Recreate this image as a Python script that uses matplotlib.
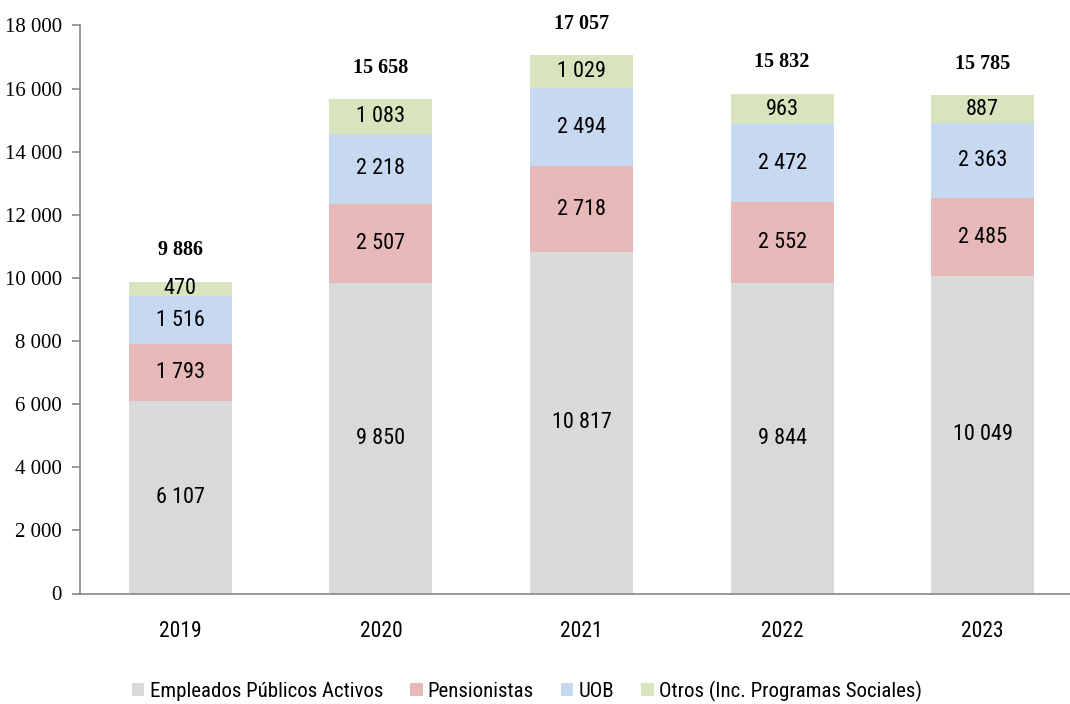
import matplotlib
matplotlib.use("Agg")
import matplotlib.pyplot as plt
import numpy as np

years = ["2019", "2020", "2021", "2022", "2023"]
empleados = [6107, 9850, 10817, 9844, 10049]
pensionistas = [1793, 2507, 2718, 2552, 2485]
uob = [1516, 2218, 2494, 2472, 2363]
otros = [470, 1083, 1029, 963, 887]
totales = [9886, 15658, 17057, 15832, 15785]

series_names = ["Empleados Públicos Activos", "Pensionistas", "UOB",
                "Otros (Inc. Programas Sociales)"]
colors = ["#D9D9D9", "#E6B9B8", "#C6D9F1", "#D7E4BD"]

SANS = ["Roboto Condensed", "DejaVu Sans"]
SERIF = ["Liberation Serif", "DejaVu Serif"]


def fmt(v):
    return f"{v:,}".replace(",", " ")


fig = plt.figure(figsize=(10.7, 7.04), dpi=100)
ax = fig.add_axes([80 / 1070, 1 - 593.5 / 704, 1003 / 1070, 568 / 704])

x = np.arange(len(years))
width = 0.513
bottom = np.zeros(len(years))
handles = []
for vals, name, col in zip([empleados, pensionistas, uob, otros], series_names, colors):
    bars = ax.bar(x, vals, width, bottom=bottom, color=col, label=name, zorder=2)
    handles.append(bars)
    for xi, b, v in zip(x, bottom, vals):
        ax.text(xi, b + v / 2, fmt(v), ha="center", va="center",
                fontsize=16, family=SANS, color="#000000")
    bottom += np.array(vals)

for xi, top, tot in zip(x, bottom, totales):
    ax.text(xi, top + 1000, fmt(tot), ha="center", va="center",
            fontsize=14.5, family=SERIF, fontweight="bold", color="#000000")

ax.set_xlim(-0.5, 4.5)
ax.set_ylim(0, 18000)
ax.set_yticks(np.arange(0, 18001, 2000))
ax.set_yticklabels([fmt(v) for v in range(0, 18001, 2000)], family=SERIF, fontsize=15)
ax.set_xticks(x)
ax.set_xticklabels(years, family=SANS, fontsize=15.5)

for s in ["top", "right"]:
    ax.spines[s].set_visible(False)
for s in ["left", "bottom"]:
    ax.spines[s].set_color("#888888")
    ax.spines[s].set_linewidth(1.2)
ax.tick_params(axis="y", length=6, width=1.2, color="#888888", pad=7, labelcolor="#000000")
ax.tick_params(axis="x", length=0, pad=20, labelcolor="#000000")

fig.legend(handles=handles, labels=series_names, loc="center",
           bbox_to_anchor=(527 / 1070, 1 - 691 / 704), ncol=4, frameon=False,
           handlelength=0.6, handleheight=0.6, handletextpad=0.25,
           columnspacing=1.3, prop={"family": SANS, "size": 15})

fig.savefig("out.png", dpi=100)
